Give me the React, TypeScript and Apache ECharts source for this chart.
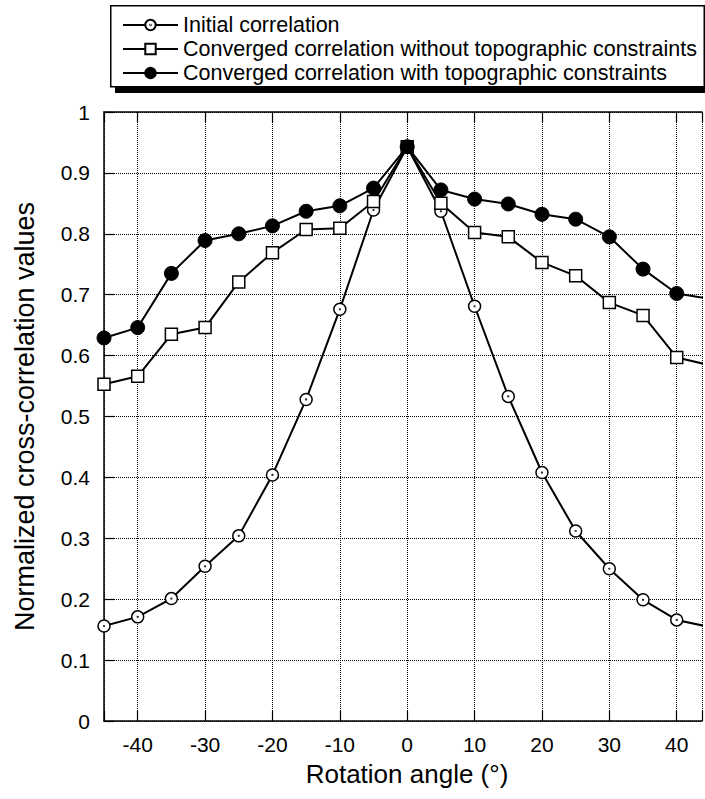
import React, { useEffect, useRef } from 'react';
import * as echarts from 'echarts';

const angles = [-45, -40, -35, -30, -25, -20, -15, -10, -5, 0, 5, 10, 15, 20, 25, 30, 35, 40, 45];
const initialCorrelation = [0.156, 0.171, 0.201, 0.254, 0.304, 0.404, 0.528, 0.676, 0.839, 0.943, 0.837, 0.681, 0.533, 0.408, 0.312, 0.25, 0.199, 0.166, 0.154];
const convergedWithout = [0.553, 0.566, 0.635, 0.646, 0.721, 0.769, 0.807, 0.809, 0.853, 0.943, 0.85, 0.802, 0.795, 0.753, 0.731, 0.687, 0.666, 0.597, 0.584];
const convergedWith = [0.629, 0.646, 0.735, 0.789, 0.8, 0.813, 0.837, 0.846, 0.875, 0.943, 0.872, 0.857, 0.849, 0.832, 0.824, 0.795, 0.742, 0.702, 0.693];
const seriesNames = [
  'Initial correlation',
  'Converged correlation without topographic constraints',
  'Converged correlation with topographic constraints',
];
const xTickLabels = [-40, -30, -20, -10, 0, 10, 20, 30, 40];

const FONT = '"Liberation Sans", Arial, Helvetica, sans-serif';
const DOT_CIRCLE = 'path://M0,10A10,10,0,1,0,20,10A10,10,0,1,0,0,10ZM9.4,10A0.6,0.6,0,1,0,10.6,10A0.6,0.6,0,1,0,9.4,10Z';

function pairs(ys: number[]) {
  return angles.map((a, i) => [a, ys[i]]);
}

export default function App() {
  const ref = useRef<HTMLDivElement>(null);
  useEffect(() => {
    if (!ref.current) return;
    const chart = echarts.init(ref.current, undefined, { renderer: 'svg' });
    const xCommon = {
      type: 'value',
      min: -45,
      max: 43.75,
      splitNumber: 9,
      axisLine: { show: true, onZero: false, lineStyle: { color: '#000', width: 1.5 } },
      axisTick: { show: true, inside: true, length: 10, lineStyle: { color: '#000', width: 1.2 } },
    };
    chart.setOption({
      animation: false,
      backgroundColor: '#fff',
      textStyle: { fontFamily: FONT, color: '#000' },
      grid: { left: 104, right: 0, top: 112, bottom: 78, containLabel: false },
      legend: {
        orient: 'vertical',
        left: 110,
        top: 5,
        padding: [9, 0, 7, 12],
        itemWidth: 55,
        itemHeight: 13,
        itemGap: 2,
        data: seriesNames,
        textStyle: { fontSize: 21.5, color: '#000', fontFamily: FONT },
        z: 10,
      },
      graphic: [
        {
          type: 'rect',
          z: 1,
          shape: { x: 115, y: 86, width: 600, height: 7 },
          style: { fill: '#000' },
        },
        {
          type: 'rect',
          z: 2,
          shape: { x: 110.75, y: 5.75, width: 593.5, height: 81 },
          style: { fill: '#fff', stroke: '#000', lineWidth: 1.5 },
        },
      ],
      xAxis: [
        {
          ...xCommon,
          position: 'bottom',
          name: 'Rotation angle (°)',
          nameLocation: 'middle',
          nameGap: 40,
          nameTextStyle: { fontSize: 26, color: '#000', fontFamily: FONT, padding: [0, 0, 0, 8] },
          axisLabel: {
            show: true,
            fontSize: 21,
            color: '#000',
            fontFamily: FONT,
            margin: 13,
            formatter: (v: number) => (xTickLabels.indexOf(v) >= 0 ? String(v) : ''),
          },
          splitLine: { show: true, lineStyle: { color: '#000', width: 1, type: [1, 1] } },
        },
        {
          ...xCommon,
          position: 'top',
          axisLabel: { show: false },
          splitLine: { show: false },
        },
      ],
      yAxis: {
        type: 'value',
        min: 0,
        max: 1,
        interval: 0.1,
        name: 'Normalized cross-correlation values',
        nameLocation: 'middle',
        nameGap: 66,
        nameTextStyle: { fontSize: 27, color: '#000', fontFamily: FONT, padding: [0, 0, 0, 0] },
        axisLine: { show: true, onZero: false, lineStyle: { color: '#000', width: 1.5 } },
        axisTick: { show: true, inside: true, length: 10, lineStyle: { color: '#000', width: 1.2 } },
        axisLabel: { fontSize: 21, color: '#000', fontFamily: FONT, margin: 14 },
        splitLine: { show: true, lineStyle: { color: '#000', width: 1, type: [1, 1] } },
      },
      series: [
        {
          name: seriesNames[0],
          type: 'line',
          xAxisIndex: 0,
          data: pairs(initialCorrelation),
          symbol: DOT_CIRCLE,
          symbolSize: 12,
          lineStyle: { color: '#000', width: 2 },
          itemStyle: { color: '#fff', borderColor: '#000', borderWidth: 1.5 },
          z: 2,
        },
        {
          name: seriesNames[1],
          type: 'line',
          xAxisIndex: 0,
          data: pairs(convergedWithout),
          symbol: 'rect',
          symbolSize: 12,
          lineStyle: { color: '#000', width: 2 },
          itemStyle: { color: '#fff', borderColor: '#000', borderWidth: 1.5 },
          z: 3,
        },
        {
          name: seriesNames[2],
          type: 'line',
          xAxisIndex: 0,
          data: pairs(convergedWith),
          symbol: 'circle',
          symbolSize: 14,
          lineStyle: { color: '#000', width: 2 },
          itemStyle: { color: '#000', borderColor: '#000', borderWidth: 1 },
          z: 4,
        },
      ],
    });
    return () => chart.dispose();
  }, []);
  return <div ref={ref} style={{ width: 705, height: 799, position: 'absolute', left: 0, top: 0 }} />;
}
